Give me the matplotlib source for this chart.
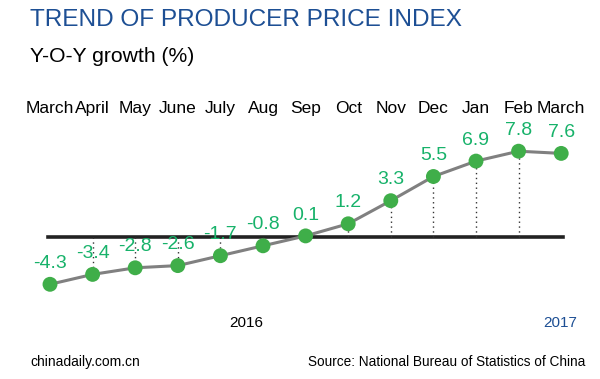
import matplotlib
matplotlib.use("Agg")
import matplotlib.pyplot as plt

plt.rcParams['font.family'] = ['Liberation Sans', 'DejaVu Sans']

months = ["March", "April", "May", "June", "July", "Aug", "Sep",
          "Oct", "Nov", "Dec", "Jan", "Feb", "March"]
ppi = [-4.3, -3.4, -2.8, -2.6, -1.7, -0.8, 0.1, 1.2, 3.3, 5.5, 6.9, 7.8, 7.6]
years = ["2016", "2017"]

blue = "#1d4f94"
green = "#17b26a"
dot_green = "#3fae49"

fig = plt.figure(figsize=(6, 3.79), dpi=100)
ax = fig.add_axes([0, 0, 1, 1])
ax.set_xlim(-50 / 42.6, 550 / 42.6)
ax.set_ylim(-142 / 11.0, 237 / 11.0)
ax.axis("off")

x = list(range(len(ppi)))

# zero line
ax.plot([-0.05, 12.05], [0, 0], color="#222222", lw=2.6, zorder=1)

# dotted drop lines
for i in range(1, len(ppi) - 1):
    ax.plot([i, i], [0, ppi[i]], color="#333333", lw=1, ls=(0, (1, 2.5)), zorder=1)

ax.plot(x, ppi, color="#808080", lw=2.2, zorder=2)
ax.scatter(x, ppi, s=115, color=dot_green, zorder=3, edgecolors="none")

for i, v in enumerate(ppi):
    ax.annotate(f"{v:.1f}", (i, v), xytext=(0, 15), textcoords="offset points",
                ha="center", va="center", color=green, fontsize=14)

for i, m in enumerate(months):
    ax.text(i, 11.7, m, ha="center", va="center", fontsize=12.5, color="black")

ax.text(4.6, -7.8, years[0], ha="center", va="center", fontsize=11, color="black")
ax.text(11.97, -7.8, years[1], ha="center", va="center", fontsize=11, color=blue)

fig.text(30 / 600, 1 - 20 / 379, "TREND OF PRODUCER PRICE INDEX", ha="left", va="center",
         fontsize=17.6, color=blue)
fig.text(30 / 600, 1 - 57 / 379, "Y-O-Y growth (%)", ha="left", va="center",
         fontsize=15.2, color="black")
fig.text(30 / 600, 1 - 362 / 379, "chinadaily.com.cn", ha="left", va="center",
         fontsize=10, color="black")
fig.text(585 / 600, 1 - 362 / 379, "Source: National Bureau of Statistics of China",
         ha="right", va="center", fontsize=9.8, color="black")

fig.savefig("out.png", dpi=100, facecolor="white")
